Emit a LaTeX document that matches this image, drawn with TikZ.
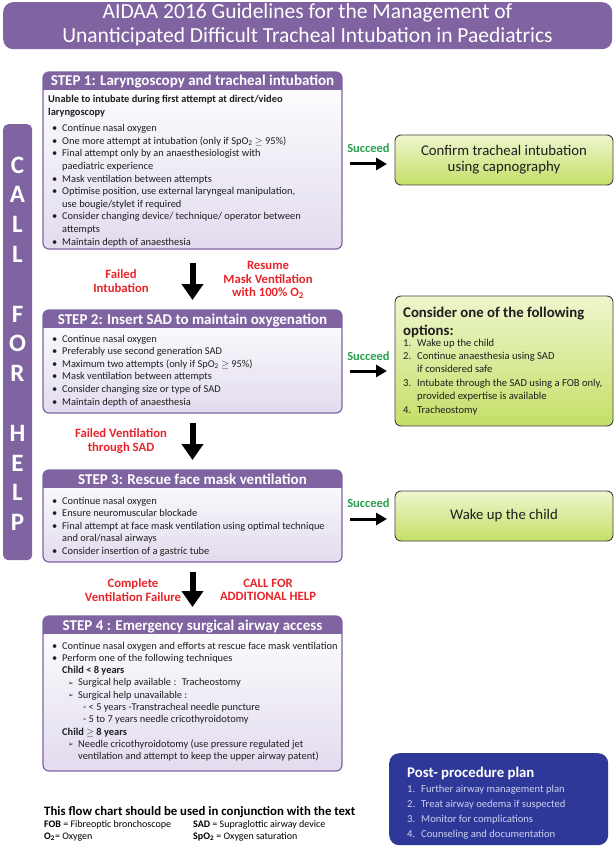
\documentclass[tikz,border=0pt]{standalone}
\usepackage{fontspec}
\setmainfont{Carlito}
\newfontfamily\dejavu{DejaVu Sans}
\usetikzlibrary{arrows.meta}

\definecolor{aidaa}{RGB}{128,100,162}
\definecolor{lav}{RGB}{226,219,238}
\definecolor{gtop}{RGB}{238,246,205}
\definecolor{gbot}{RGB}{196,223,104}
\definecolor{redtxt}{RGB}{232,36,42}
\definecolor{greentxt}{RGB}{38,160,78}
\definecolor{postblue}{RGB}{46,56,152}
\definecolor{posttxt}{RGB}{204,208,238}
\definecolor{textdark}{RGB}{30,30,30}

\newcommand{\txtrows}[2][l]{\begin{tabular}[t]{@{}#1@{}}#2\end{tabular}}
\newcommand{\itm}{\hspace*{4pt}\makebox[10pt][l]{\textbullet}}
\newcommand{\cnt}{\hspace*{14pt}}
\newcommand{\arw}{\hspace*{20pt}\makebox[10pt][l]{\raisebox{0.5pt}{\dejavu\fontsize{6.5}{6.5}\selectfont ➢}}}
\newcommand{\nitm}[1]{\makebox[14pt][l]{#1.}}

\tikzset{
  stepbox/.style={anchor=north west, inner sep=0pt, outer sep=0pt, rounded corners=6pt, top color=white, bottom color=lav},
  headtext/.style={text=white, font=\bfseries\fontsize{15}{17}\selectfont, inner sep=0pt},
  bodytext/.style={anchor=base west, inner sep=0pt, text=textdark, font=\fontsize{10.4}{12.6}\selectfont},
  greenbox/.style={anchor=north west, inner sep=0pt, outer sep=0pt, draw=black!75, line width=0.9pt, rounded corners=6pt, top color=gtop, bottom color=gbot, align=center, text=textdark, font=\fontsize{14.8}{16}\selectfont},
  redlbl/.style={text=redtxt, font=\bfseries\fontsize{12.7}{13.5}\selectfont, align=center, inner sep=0pt},
  succ/.style={text=greentxt, font=\bfseries\fontsize{12.5}{13}\selectfont, inner sep=0pt},
  downarrow/.style={line width=6pt, -{Triangle[width=21pt,length=16pt]}, shorten <=10pt, shorten >=10pt},
  sidearrow/.style={line width=3pt, -{Triangle[width=12pt,length=11pt]}, shorten <=8pt, shorten >=8pt},
  helpletter/.style={text=white, font=\bfseries\fontsize{25}{25}\selectfont, inner sep=0pt},
}

\begin{document}
\begin{tikzpicture}[x=1pt,y=-1pt]
\useasboundingbox (0,0) rectangle (615,850);
%% title
\node[fill=aidaa, rounded corners=10pt, anchor=north west, minimum width=609pt, minimum height=47pt, inner sep=0pt] (title) at (3,2) {};
\node[text=white, font=\fontsize{21.5}{24}\selectfont, anchor=base, inner sep=0pt] (title-t) at (307.5,19) {\txtrows[c]{AIDAA 2016 Guidelines for the Management of\\Unanticipated Difficult Tracheal Intubation in Paediatrics}};

%% call for help
\node[fill=aidaa, rounded corners=5pt, anchor=north west, minimum width=29pt, minimum height=436pt, inner sep=0pt] (help) at (3,124) {};
\foreach \l/\k in {C/0,A/1,L/2,L/3,F/5,O/6,R/7,H/9,E/10,L/11,P/12}
  \node[helpletter] (h\k) at (17.5,{165+29.8*\k}) {\l};

%% steps
\node[stepbox, minimum width=299pt, minimum height=177pt] (s1) at (43,72) {};
\node[stepbox, minimum width=299pt, minimum height=103pt] (s2) at (43,310) {};
\node[stepbox, minimum width=299pt, minimum height=92pt] (s3) at (43,470) {};
\node[stepbox, minimum width=299pt, minimum height=155pt] (s4) at (43,616) {};
\foreach \b/\t in {s1/STEP 1: Laryngoscopy and tracheal intubation,
                   s2/STEP 2: Insert SAD to maintain oxygenation,
                   s3/STEP 3: Rescue face mask ventilation,
                   s4/STEP 4 : Emergency surgical airway access}{
  \begin{scope}
    \clip[rounded corners=6pt] (\b.north west) rectangle (\b.south east);
    \fill[aidaa] (\b.north west) rectangle ([yshift=-18pt]\b.north east);
  \end{scope}
  \draw[aidaa, line width=1.2pt, rounded corners=6pt] (\b.north west) rectangle (\b.south east);
  \node[headtext, anchor=base] (\b-h) at ([yshift=-14pt]\b.north) {\t};
}

\node[bodytext] (s1-t) at (48,103) {\txtrows{\textbf{Unable to intubate during first attempt at direct/video}\\
  \textbf{laryngoscopy}\\[3.5pt]
  \itm Continue nasal oxygen\\
  \itm One more attempt at intubation (only if SpO\textsubscript{2} $\geq$ 95\%)\\
  \itm Final attempt only by an anaesthesiologist with\\
  \cnt paediatric experience\\
  \itm Mask ventilation between attempts\\
  \itm Optimise position, use external laryngeal manipulation,\\
  \cnt use bougie/stylet if required\\
  \itm Consider changing device/ technique/ operator between\\
  \cnt attempts\\
  \itm Maintain depth of anaesthesia}};

\node[bodytext] (s2-t) at (48,342) {\txtrows{\itm Continue nasal oxygen\\
  \itm Preferably use second generation SAD\\
  \itm Maximum two attempts (only if SpO\textsubscript{2} $\geq$ 95\%)\\
  \itm Mask ventilation between attempts\\
  \itm Consider changing size or type of SAD\\
  \itm Maintain depth of anaesthesia}};

\node[bodytext] (s3-t) at (48,504) {\txtrows{\itm Continue nasal oxygen\\
  \itm Ensure neuromuscular blockade\\
  \itm Final attempt at face mask ventilation using optimal technique\\
  \cnt and oral/nasal airways\\
  \itm Consider insertion of a gastric tube}};

\node[bodytext, font=\fontsize{10.4}{12.3}\selectfont] (s4-t) at (48,649) {\txtrows{\itm Continue nasal oxygen and efforts at rescue face mask ventilation\\
  \itm Perform one of the following techniques\\
  \cnt\textbf{Child < 8 years}\\
  \arw Surgical help available :~ Tracheostomy\\
  \arw Surgical help unavailable :\\
  \hspace*{35pt}- < 5 years -Transtracheal needle puncture\\
  \hspace*{35pt}- 5 to 7 years needle cricothyroidotomy\\
  \cnt\textbf{Child $\geq$ 8 years}\\
  \arw Needle cricothyroidotomy (use pressure regulated jet\\
  \hspace*{30pt}ventilation and attempt to keep the upper airway patent)}};

%% arrows down
\draw[downarrow, shorten <=14pt] (s1) -- (s2);
\draw[downarrow] (s2) -- (s3);
\draw[downarrow, shorten >=9pt] (s3) -- (s4);
\node[redlbl] (fail1) at (121,281) {Failed\\Intubation};
\node[redlbl] (resume) at (268,280) {Resume\\Mask Ventilation\\with 100\% O\textsubscript{2}};
\node[redlbl] (fail2) at (121,441) {Failed Ventilation\\through SAD};
\node[redlbl] (fail3) at (133,590) {Complete\\Ventilation Failure};
\node[redlbl] (callmore) at (268,590) {CALL FOR\\ADDITIONAL HELP};

%% outcomes
\node[greenbox, minimum width=218pt, minimum height=50pt] (c1) at (395,135) {Confirm tracheal intubation\\using capnography};
\node[greenbox, minimum width=218pt, minimum height=130pt] (c2) at (395,296) {};
\node[anchor=base west, inner sep=0pt, text=textdark, font=\bfseries\fontsize{14.8}{18}\selectfont] (c2-t) at (403,317) {\txtrows{Consider one of the following\\options:}};
\node[bodytext, font=\fontsize{10.6}{13.4}\selectfont] (c2-l) at (403,346) {\txtrows{\nitm{1}Wake up the child\\
  \nitm{2}Continue anaesthesia using SAD\\
  \hspace*{14pt}if considered safe\\
  \nitm{3}Intubate through the SAD using a FOB only,\\
  \hspace*{14pt}provided expertise is available\\
  \nitm{4}Tracheostomy}};
\node[greenbox, minimum width=218pt, minimum height=50pt] (c3) at (395,491) {Wake up the child};

\coordinate (a1) at ([yshift=-4pt]c1.west);
\coordinate (a2) at ([yshift=-10pt]c2.west);
\coordinate (a3) at ([yshift=-3pt]c3.west);
\draw[sidearrow] (a1 -| s1.east) -- (a1) node[succ, midway, yshift=16pt] (ok1) {Succeed};
\draw[sidearrow] (a2 -| s2.east) -- (a2) node[succ, midway, yshift=15pt] (ok2) {Succeed};
\draw[sidearrow] (a3 -| s3.east) -- (a3) node[succ, midway, yshift=16pt] (ok3) {Succeed};

%% post procedure
\node[fill=postblue, rounded corners=10pt, anchor=north west, minimum width=219pt, minimum height=92pt, inner sep=0pt] (pp) at (389,753) {};
\node[anchor=base west, inner sep=0pt, text=white, font=\bfseries\fontsize{14.8}{16}\selectfont] (pp-t) at (407,777) {Post- procedure plan};
\node[bodytext, text=posttxt, font=\fontsize{10.6}{15.3}\selectfont] (pp-l) at (407,792) {\txtrows{\nitm{1}Further airway management plan\\
  \nitm{2}Treat airway oedema if suspected\\
  \nitm{3}Monitor for complications\\
  \nitm{4}Counseling and documentation}};

%% footer
\node[anchor=base west, inner sep=0pt, font=\bfseries\fontsize{12.8}{14}\selectfont] (note) at (44,815) {This flow chart should be used in conjunction with the text};
\node[anchor=base west, inner sep=0pt, font=\fontsize{10}{12}\selectfont] (abb1) at (44,827) {\txtrows{\textbf{FOB} = Fibreoptic bronchoscope\\\textbf{O\textsubscript{2}}= Oxygen}};
\node[anchor=base west, inner sep=0pt, font=\fontsize{10}{12}\selectfont] (abb2) at (193,827) {\txtrows{\textbf{SAD} = Supraglottic airway device\\\textbf{SpO\textsubscript{2}} = Oxygen saturation}};
\end{tikzpicture}
\end{document}
